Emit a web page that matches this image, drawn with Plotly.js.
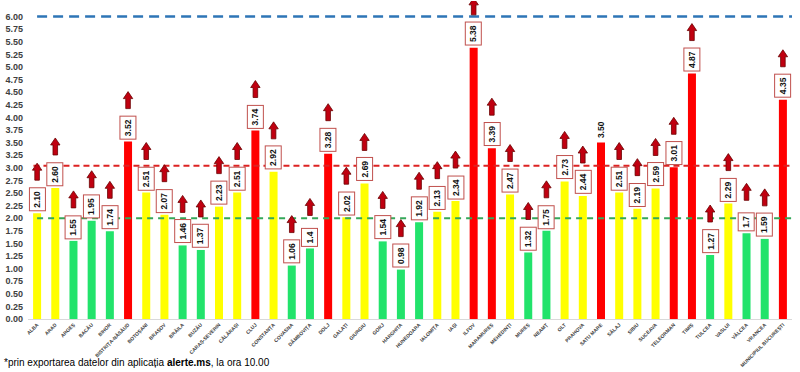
<!DOCTYPE html>
<html>
<head>
<meta charset="utf-8">
<script src="https://cdn.plot.ly/plotly-3.0.1.min.js"></script>
<style>html,body{margin:0;padding:0;background:#fff;}#chart{width:800px;height:372px;}</style>
</head>
<body>
<div id="chart"></div>
<script>
const categories = ['ALBA','ARAD','ARGEȘ','BACĂU','BIHOR','BISTRIȚA-NĂSĂUD','BOTOȘANI','BRAȘOV','BRĂILA','BUZĂU','CARAȘ-SEVERIN','CĂLĂRAȘI','CLUJ','CONSTANȚA','COVASNA','DÂMBOVIȚA','DOLJ','GALAȚI','GIURGIU','GORJ','HARGHITA','HUNEDOARA','IALOMIȚA','IAȘI','ILFOV','MARAMUREȘ','MEHEDINȚI','MUREȘ','NEAMȚ','OLT','PRAHOVA','SATU MARE','SĂLAJ','SIBIU','SUCEAVA','TELEORMAN','TIMIȘ','TULCEA','VASLUI','VÂLCEA','VRANCEA','MUNICIPIUL BUCUREȘTI'];
const values = [2.10,2.60,1.55,1.95,1.74,3.52,2.51,2.07,1.46,1.37,2.23,2.51,3.74,2.92,1.06,1.40,3.28,2.02,2.69,1.54,0.98,1.92,2.13,2.34,5.38,3.39,2.47,1.32,1.75,2.73,2.44,3.50,2.51,2.19,2.59,3.01,4.87,1.27,2.29,1.70,1.59,4.35];
const valueLabels = ['2.10','2.60','1.55','1.95','1.74','3.52','2.51','2.07','1.46','1.37','2.23','2.51','3.74','2.92','1.06','1.4','3.28','2.02','2.69','1.54','0.98','1.92','2.13','2.34','5.38','3.39','2.47','1.32','1.75','2.73','2.44','3.50','2.51','2.19','2.59','3.01','4.87','1.27','2.29','1.7','1.59','4.35'];
const trendUp = categories.map(c => c !== 'SATU MARE');
const thresholds = {green: 2.0, red: 3.04, max: 6.0};
const yTicks = [0,0.25,0.5,0.75,1,1.25,1.5,1.75,2,2.25,2.5,2.75,3,3.25,3.5,3.75,4,4.25,4.5,4.75,5,5.25,5.5,5.75,6,6.25];
const footnote = '*prin exportarea datelor din aplicația <b>alerte.ms</b>, la ora 10.00';

const GREEN = '#22e36b', YELLOW = '#ffff00', RED = '#ff0000';
const idx = categories.map((c, i) => i);
const colors = values.map(v => v < 2 ? GREEN : (v <= 3 ? YELLOW : RED));

const trace = {
  type: 'bar', x: idx, y: values,
  marker: {color: colors, line: {width: 0}},
  hoverinfo: 'skip', cliponaxis: false
};

const annotations = [];
const shapes = [];
values.forEach((v, i) => {
  if (trendUp[i]) {
    annotations.push({
      x: i, y: v, xref: 'x', yref: 'y', text: valueLabels[i], showarrow: false,
      textangle: -90, yanchor: 'bottom', xanchor: 'center', yshift: 2,
      font: {family: 'Liberation Sans, Arial', size: 8.5, color: '#111', weight: 'bold'},
      bgcolor: '#ffffff', bordercolor: '#c0504d', borderwidth: 1, borderpad: 2.5
    });
    const off = 33;
    shapes.push({
      type: 'path', xref: 'x', yref: 'y', xsizemode: 'pixel', ysizemode: 'pixel',
      xanchor: i, yanchor: v,
      path: `M -2.3,${off} L 2.3,${off} L 2.3,${off+10} L 4.7,${off+10} L 0,${off+17} L -4.7,${off+10} L -2.3,${off+10} Z`,
      fillcolor: '#c00010', line: {color: '#6a0000', width: 0.8}, layer: 'above'
    });
  } else {
    annotations.push({
      x: i, y: v, xref: 'x', yref: 'y', text: '<b>' + valueLabels[i] + '</b>', showarrow: false,
      textangle: -90, yanchor: 'bottom', xanchor: 'center', yshift: 2,
      font: {family: 'Liberation Sans, Arial', size: 8.5, color: '#111'}
    });
  }
});

annotations.push({
  xref: 'paper', yref: 'paper', x: 0, y: 0, xanchor: 'left', yanchor: 'middle',
  xshift: -26, yshift: -43, showarrow: false, text: footnote,
  font: {family: 'Liberation Sans, Arial', size: 10, color: '#000'}
});

const lastX = categories.length - 0.5;
shapes.unshift(
  {type: 'line', xref: 'x', yref: 'y', x0: 0, x1: lastX, y0: thresholds.max, y1: thresholds.max,
   line: {color: '#2e75b6', width: 2.5, dash: '10px,6px'}, layer: 'above'},
  {type: 'line', xref: 'x', yref: 'y', x0: -0.2, x1: lastX, y0: thresholds.red, y1: thresholds.red,
   line: {color: '#dd2222', width: 2, dash: '6px,4px'}, layer: 'above'},
  {type: 'line', xref: 'x', yref: 'y', x0: 0, x1: lastX, y0: thresholds.green, y1: thresholds.green,
   line: {color: '#35a85a', width: 2, dash: '6px,5px'}, layer: 'above'}
);

const layout = {
  width: 800, height: 372,
  margin: {l: 28, r: 8, t: 1, b: 53},
  paper_bgcolor: '#fff', plot_bgcolor: '#fff',
  showlegend: false, bargap: 0.56,
  xaxis: {
    range: [-0.5, categories.length - 0.5], tickvals: idx, ticktext: categories,
    tickangle: -45, showgrid: false, zeroline: false, showline: true, linecolor: '#d9d9d9', linewidth: 1,
    ticks: '', tickfont: {family: 'Liberation Sans, Arial', size: 5, color: '#404040', weight: 'bold'},
    fixedrange: true
  },
  yaxis: {
    range: [0, 6.31], tickvals: yTicks, ticktext: yTicks.map(t => t.toFixed(2)),
    showgrid: false, zeroline: false, showline: false, ticks: '',
    ticklabelstandoff: 4,
    tickfont: {family: 'Liberation Sans, Arial', size: 9, color: '#404040', weight: 'bold'},
    fixedrange: true
  },
  annotations: annotations, shapes: shapes
};

Plotly.newPlot('chart', [trace], layout, {displayModeBar: false, staticPlot: true});
</script>
</body>
</html>
